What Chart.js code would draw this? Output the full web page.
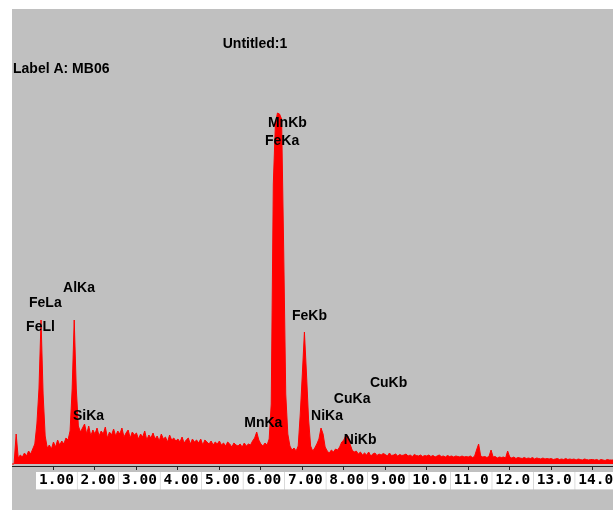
<!DOCTYPE html>
<html>
<head>
<meta charset="utf-8">
<title>Untitled:1</title>
<script src="https://cdn.jsdelivr.net/npm/chart.js@4/dist/chart.umd.min.js"></script>
<style>
    html, body { margin: 0; padding: 0; background: #ffffff; }
    #panel { position: absolute; left: 12px; top: 9px; width: 601px; height: 501px; background: #c0c0c0; }
    #panel canvas { display: block; }
</style>
</head>
<body>
<div id="panel"><canvas id="chart" width="601" height="501"></canvas></div>
<script>
// Calibración del espectro (keV por canal)
const energiaInicio = 0;
const pasoEnergia = 0.05;

const cuentas = [
    0, 0, 300, 60, 90, 70, 110, 80, 130, 100,
    150, 200, 400, 750, 1440, 700, 280, 160, 190, 150,
    220, 170, 240, 190, 230, 200, 260, 240, 330, 750,
    1440, 750, 380, 320, 360, 400, 300, 380, 280, 340,
    300, 360, 280, 330, 300, 370, 260, 320, 290, 350,
    280, 330, 300, 360, 270, 310, 340, 260, 320, 290,
    310, 250, 300, 270, 330, 240, 290, 260, 310, 250,
    280, 230, 300, 250, 270, 220, 290, 240, 260, 230,
    250, 220, 270, 210, 240, 260, 200, 250, 220, 240,
    210, 250, 190, 240, 220, 200, 230, 190, 220, 200,
    230, 190, 210, 180, 220, 200, 170, 210, 190, 180,
    200, 170, 210, 180, 200, 190, 230, 260, 320, 240,
    200, 180, 210, 190, 250, 600, 2800, 3400, 3510, 3500,
    3450, 2150, 700, 300, 180, 140, 160, 130, 180, 500,
    900, 1320, 900, 450, 180, 130, 160, 200, 250, 360,
    300, 170, 130, 110, 140, 120, 150, 140, 170, 220,
    240, 290, 280, 200, 140, 120, 130, 100, 120, 90,
    110, 90, 120, 80, 100, 110, 85, 100, 90, 105,
    95, 80, 110, 85, 90, 100, 80, 95, 85, 90,
    100, 80, 90, 75, 95, 85, 80, 90, 75, 85,
    80, 90, 75, 85, 70, 80, 90, 75, 80, 70,
    85, 75, 80, 70, 80, 75, 70, 80, 70, 75,
    70, 80, 65, 75, 140, 200, 80, 70, 75, 65,
    75, 140, 70, 75, 60, 70, 65, 70, 60, 130,
    70, 60, 70, 55, 65, 60, 55, 65, 55, 60,
    55, 65, 50, 60, 55, 50, 60, 50, 55, 50,
    55, 45, 50, 55, 45, 50, 45, 55, 45, 50,
    45, 50, 40, 50, 45, 40, 50, 45, 40, 45,
    45, 40, 45, 35, 45, 40, 35, 45, 40, 40,
    40
];

// Marcas del eje X (keV) y sus textos
const marcasX = [1, 2, 3, 4, 5, 6, 7, 8, 9, 10, 11, 12, 13, 14];
const etiquetasX = ['1.00', '2.00', '3.00', '4.00', '5.00', '6.00', '7.00', '8.00', '9.00', '10.0', '11.0', '12.0', '13.0', '14.0'];

// Identificación de picos: nombre, energía (keV) y altura (cuentas) donde va el texto
const picosNombre = ['FeLa', 'FeLl', 'AlKa', 'SiKa', 'MnKb', 'FeKa', 'FeKb', 'MnKa', 'NiKa', 'CuKa', 'CuKb', 'NiKb'];
const picosEnergia = [0.41, 0.34, 1.23, 1.47, 6.17, 6.10, 6.75, 5.60, 7.21, 7.76, 8.63, 8.00];
const picosAltura = [1610, 1370, 1760, 480, 3410, 3230, 1480, 410, 480, 650, 810, 240];

document.addEventListener('DOMContentLoaded', function() {
    const chartElement = document.getElementById('chart');
    if (!chartElement) {
        console.error('Error: no se encontró el canvas "chart"');
        return;
    }
    const ctx = chartElement.getContext('2d');

    const puntos = cuentas.map((c, i) => ({ x: energiaInicio + i * pasoEnergia, y: c }));

    const fuenteTexto = 'bold 14px "Liberation Sans", Arial, sans-serif';

    // Dibuja los nombres de los picos y los encabezados
    const etiquetasPlugin = {
        id: 'etiquetasPicos',
        afterDatasetsDraw(chart) {
            const c = chart.ctx;
            const x = chart.scales.x;
            const y = chart.scales.y;
            c.save();
            c.fillStyle = '#000000';
            c.font = fuenteTexto;
            c.textBaseline = 'middle';
            c.textAlign = 'left';
            picosNombre.forEach((nombre, i) => {
                c.fillText(nombre, x.getPixelForValue(picosEnergia[i]), y.getPixelForValue(picosAltura[i]));
            });
            c.textAlign = 'center';
            c.fillText('Untitled:1', 243, 35);
            c.textAlign = 'left';
            c.fillText('Label A: MB06', 1, 60);
            c.restore();
        }
    };

    window.myChart = new Chart(ctx, {
        type: 'line',
        data: {
            datasets: [{
                data: puntos,
                borderColor: '#ff0000',
                backgroundColor: '#ff0000',
                borderWidth: 1,
                pointRadius: 0,
                tension: 0,
                fill: 'origin'
            }]
        },
        options: {
            responsive: false,
            animation: false,
            devicePixelRatio: 1,
            layout: { padding: 0 },
            plugins: {
                legend: { display: false },
                tooltip: { enabled: false },
                title: { display: false }
            },
            scales: {
                x: {
                    type: 'linear',
                    min: 0,
                    max: 14.49,
                    afterBuildTicks: function(scale) {
                        scale.ticks = marcasX.map(v => ({ value: v }));
                    },
                    afterFit: function(scale) {
                        scale.height = 44;
                        scale.paddingLeft = 0;
                        scale.paddingRight = 0;
                    },
                    grid: {
                        display: true,
                        drawOnChartArea: false,
                        drawTicks: true,
                        tickLength: 4,
                        color: '#222222',
                        lineWidth: 1
                    },
                    border: { display: true, color: '#222222', width: 1 },
                    ticks: {
                        autoSkip: false,
                        maxRotation: 0,
                        minRotation: 0,
                        callback: function(value) {
                            const i = marcasX.indexOf(value);
                            return i >= 0 ? etiquetasX[i] : '';
                        },
                        font: { family: '"DejaVu Sans Mono", monospace', size: 14.5, weight: 'bold' },
                        color: '#000000',
                        padding: 2,
                        labelOffset: 3,
                        showLabelBackdrop: true,
                        backdropColor: '#ffffff',
                        backdropPadding: { top: 0, bottom: 0, left: 3, right: 3 }
                    }
                },
                y: {
                    display: false,
                    min: -20,
                    max: 4550
                }
            }
        },
        plugins: [etiquetasPlugin]
    });
});
</script>
</body>
</html>
